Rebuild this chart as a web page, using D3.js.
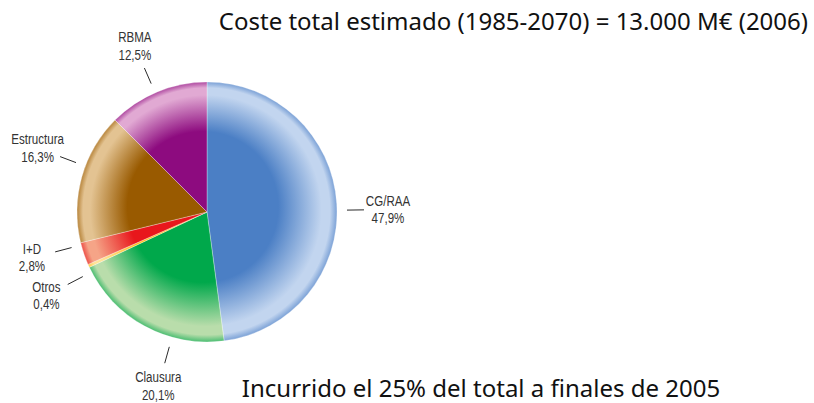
<!DOCTYPE html>
<html>
<head>
<meta charset="utf-8">
<script src="https://cdn.jsdelivr.net/npm/d3@7"></script>
<style>
  body { margin: 0; background: #fff; }
  text { font-family: "Liberation Sans", "Arial", sans-serif; }
</style>
</head>
<body>
<script>
// data (clockwise from 12 o'clock)
var categories = ["CG/RAA", "Clausura", "Otros", "I+D", "Estructura", "RBMA"];
var shares = [47.9, 20.1, 0.4, 2.8, 16.3, 12.5];
var shareLabels = ["47,9%", "20,1%", "0,4%", "2,8%", "16,3%", "12,5%"];
var title = "Coste total estimado (1985-2070) = 13.000 M€ (2006)";
var footnote = "Incurrido el 25% del total a finales de 2005";

// colours: base and rim highlight
var baseColours = ["#4b7fc5", "#00a84b", "#ffbf1a", "#e8171c", "#995a00", "#8d0b7f"];
var lightColours = ["#c2d5ef", "#b9ddab", "#ffe39a", "#f5a487", "#e3c392", "#e1a9d3"];

// label angle tweaks (degrees), so the leaders don't crowd
var labelNudge = {"CG/RAA": 3, "Clausura": -13, "Otros": -3, "I+D": 4, "Estructura": 5, "RBMA": -1};

var width = 814, height = 403;
var cx = 207, cy = 212, radius = 130;

var svg = d3.select("body").append("svg")
	.attr("width", width)
	.attr("height", height);

var data = categories.map(function(c, i) {
	return {name: c, value: shares[i], label: shareLabels[i], base: baseColours[i], light: lightColours[i]};
});

var pie = d3.pie().sort(null).value(function(d) { return d.value; });
var arc = d3.arc().innerRadius(0).outerRadius(radius);

// one radial gradient per slice, gives the domed rim look
var defs = svg.append("defs");
data.forEach(function(d, i) {
	var g = defs.append("radialGradient")
		.attr("id", "grad" + i)
		.attr("gradientUnits", "userSpaceOnUse")
		.attr("cx", 0).attr("cy", 0)
		.attr("fx", -10).attr("fy", -12)
		.attr("r", radius);
	g.append("stop").attr("offset", "0%").attr("stop-color", d.base);
	g.append("stop").attr("offset", "58%").attr("stop-color", d.base);
	g.append("stop").attr("offset", "89%").attr("stop-color", d.light);
	g.append("stop").attr("offset", "95%").attr("stop-color", d.light);
	g.append("stop").attr("offset", "100%").attr("stop-color", d3.interpolateRgb(d.base, d.light)(0.4));
});

var g = svg.append("g").attr("transform", "translate(" + cx + "," + cy + ")");

var arcs = pie(data);

g.selectAll("path.slice")
	.data(arcs)
	.enter().append("path")
	.attr("class", "slice")
	.attr("d", arc)
	.attr("fill", function(d, i) { return "url(#grad" + i + ")"; })
	.attr("stroke", "#fff")
	.attr("stroke-opacity", 0.5)
	.attr("stroke-width", 0.6);

// labels and leader lines
function labelAngle(d) {
	var mid = (d.startAngle + d.endAngle) / 2;
	return mid + (labelNudge[d.data.name] || 0) * Math.PI / 180;
}
function polar(a, r) {
	return [Math.sin(a) * r, -Math.cos(a) * r];
}

var labels = g.selectAll("g.label")
	.data(arcs)
	.enter().append("g")
	.attr("class", "label");

labels.append("line")
	.attr("x1", function(d) { return polar(labelAngle(d), 140)[0]; })
	.attr("y1", function(d) { return polar(labelAngle(d), 140)[1]; })
	.attr("x2", function(d) { return polar(labelAngle(d), 157)[0]; })
	.attr("y2", function(d) { return polar(labelAngle(d), 157)[1]; })
	.attr("stroke", "#2a2a2a")
	.attr("stroke-width", 1);

// condensed look: squeeze the text horizontally
var txt = labels.append("text")
	.attr("text-anchor", "middle")
	.attr("font-size", 15)
	.attr("fill", "#333")
	.attr("transform", function(d) {
		var p = polar(labelAngle(d), 181);
		return "translate(" + p[0] + "," + p[1] + ") scale(0.77,1)";
	});
txt.append("tspan").attr("x", 0).attr("y", -4).text(function(d) { return d.data.name; });
txt.append("tspan").attr("x", 0).attr("y", 13.5).text(function(d) { return d.data.label; });

// titles
svg.append("text")
	.attr("x", 808).attr("y", 30)
	.attr("text-anchor", "end")
	.attr("font-size", 24)
	.style("font-family", "'Noto Sans', 'Open Sans', sans-serif")
	.attr("fill", "#111")
	.text(title);

svg.append("text")
	.attr("x", 481).attr("y", 397)
	.attr("text-anchor", "middle")
	.attr("font-size", 24)
	.style("font-family", "'Noto Sans', 'Open Sans', sans-serif")
	.attr("fill", "#111")
	.text(footnote);
</script>
</body>
</html>
